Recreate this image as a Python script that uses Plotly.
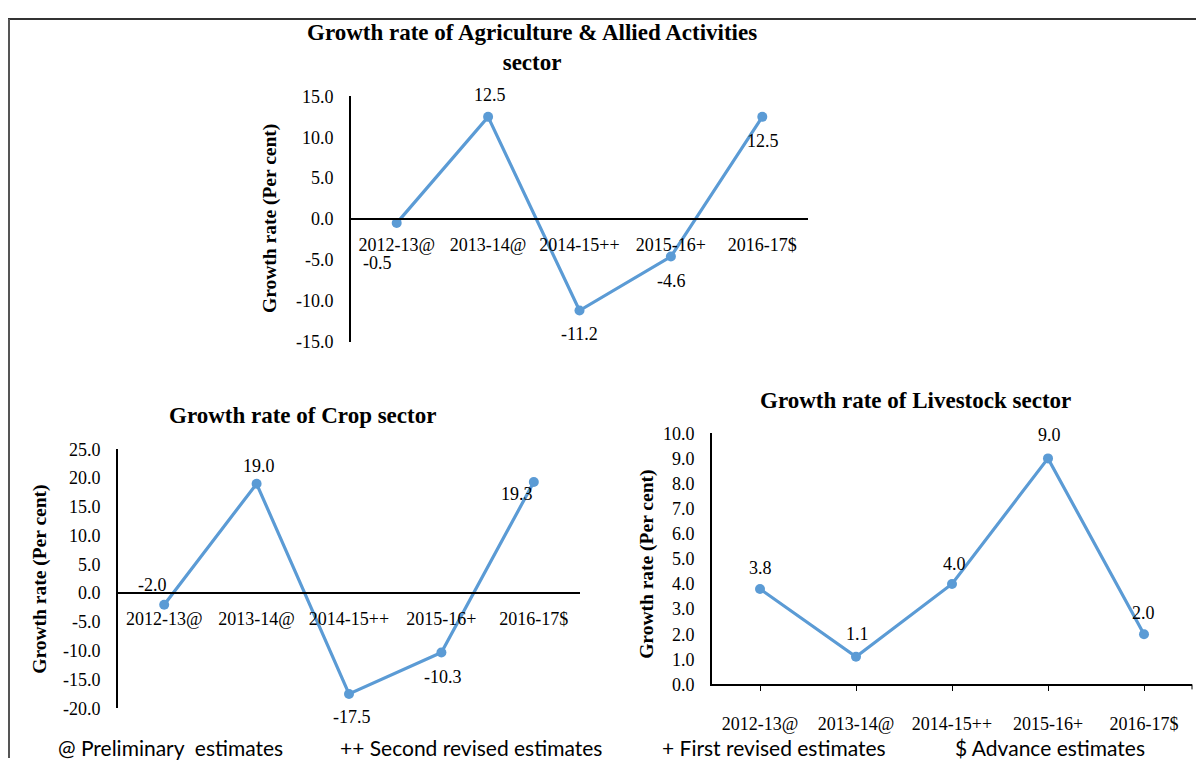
"""Growth rates of agriculture, crop and livestock sectors (three small line charts)."""

import plotly.graph_objects as go

# the page puts an 8px margin round the figure, so the figure is 16px smaller
# than the window; positions below are given in reference-picture pixels and
# mapped to the figure (vertical factor measured from an earlier render)
OX, OY = 8, 8
W, H = 1188, 760
VSCALE, VOFF = 0.977, 8.5

years = ["2012-13@", "2013-14@", "2014-15++", "2015-16+", "2016-17$"]
agri = [-0.5, 12.5, -11.2, -4.6, 12.5]
crop = [-2.0, 19.0, -17.5, -10.3, 19.3]
livestock = [3.8, 1.1, 4.0, 9.0, 2.0]

agri_ticks = [-15, -10, -5, 0, 5, 10, 15]
crop_ticks = [-20, -15, -10, -5, 0, 5, 10, 15, 20, 25]
livestock_ticks = [0, 1, 2, 3, 4, 5, 6, 7, 8, 9, 10]

footnotes = ["@ Preliminary  estimates", "++ Second revised estimates",
             "+ First revised estimates", "$ Advance estimates"]

BLUE = "#5B9BD5"
SERIF = "Liberation Serif, Times New Roman, serif"
SANS = "Lato, Carlito, Calibri, sans-serif"


def px(x):
    return (x - OX) / W


def py(y):
    ly = (y - VOFF) / VSCALE - OY
    return min(1 - ly / H, 1 - 1 / H)


fig = go.Figure()

panels = [
    dict(vals=agri, ticks=agri_ticks, xd=(351, 808), yd=(341, 95),
         shifts=[(-19, -40), (2, 22), (0, -23), (1, -24), (1, -24)], zero_axis=True),
    dict(vals=crop, ticks=crop_ticks, xd=(118, 580), yd=(709, 449),
         shifts=[(-12, 20), (2, 18), (3, -23), (2, -25), (-17, -12)], zero_axis=True),
    dict(vals=livestock, ticks=livestock_ticks, xd=(712, 1192), yd=(685, 433),
         shifts=[(0, 21), (1, 23), (2, 20), (1, 23), (-1, 21)], zero_axis=False),
]

annotations = []
for i, p in enumerate(panels, start=1):
    suffix = "" if i == 1 else str(i)
    xa, ya = "x" + suffix, "y" + suffix
    fig.add_trace(go.Scatter(
        x=years, y=p["vals"],
        mode="lines+markers",
        line=dict(color=BLUE, width=3.2),
        marker=dict(color=BLUE, size=10),
        xaxis=xa, yaxis=ya,
        showlegend=False, hoverinfo="x+y",
    ))
    for cat, v, (dx, dy) in zip(years, p["vals"], p["shifts"]):
        annotations.append(dict(
            x=cat, y=v, xref=xa, yref=ya, text=f"{v:.1f}",
            showarrow=False, xshift=dx, yshift=dy,
            font=dict(family=SERIF, size=18, color="black"),
        ))

    ydom = [py(p["yd"][0]), py(p["yd"][1])]
    y0, y1 = p["ticks"][0], p["ticks"][-1]
    xaxis = dict(
        domain=[px(p["xd"][0]), px(p["xd"][1])],
        type="category", range=[-0.5, 4.5],
        showline=True, linecolor="black", linewidth=2,
        showgrid=False, zeroline=False,
        tickfont=dict(family=SERIF, size=18, color="black"),
        fixedrange=True,
    )
    if p["zero_axis"]:
        xaxis.update(anchor="free",
                     position=ydom[0] + (0 - y0) / (y1 - y0) * (ydom[1] - ydom[0]),
                     ticks="", ticklabelstandoff=9)
    else:
        xaxis.update(anchor=ya, ticks="outside", ticklen=5,
                     tickcolor="black", tickwidth=1, ticklabelstandoff=17)
    yaxis = dict(
        domain=ydom, range=[y0, y1],
        tickvals=p["ticks"], ticktext=[f"{t:.1f}" for t in p["ticks"]],
        anchor=xa,
        showline=True, linecolor="black", linewidth=2,
        showgrid=False, zeroline=False, ticks="",
        ticklabelstandoff=12,
        tickfont=dict(family=SERIF, size=18, color="black"),
        fixedrange=True,
    )
    fig.update_layout(**{"xaxis" + suffix: xaxis, "yaxis" + suffix: yaxis})

# chart titles
titles = [
    ("<b>Growth rate of Agriculture & Allied Activities<br>sector</b>", 532, 46),
    ("<b>Growth rate of Crop sector</b>", 302, 415),
    ("<b>Growth rate of Livestock sector</b>", 915, 400),
]
for text, x, y in titles:
    annotations.append(dict(
        x=px(x), y=py(y), xref="paper", yref="paper", text=text, showarrow=False,
        font=dict(family=SERIF, size=23, color="black"), xanchor="center", yanchor="middle",
    ))

# y axis titles
for x, y in [(270, 218), (40, 580), (647, 565)]:
    annotations.append(dict(
        x=px(x), y=py(y), xref="paper", yref="paper",
        text="<b>Growth rate (Per cent)</b>", textangle=-90, showarrow=False,
        font=dict(family=SERIF, size=19.5, color="black"), xanchor="center", yanchor="middle",
    ))

# footnotes
for text, x in zip(footnotes, [56, 338, 660, 953]):
    annotations.append(dict(
        x=px(x), y=py(748), xref="paper", yref="paper", text=text, showarrow=False,
        font=dict(family=SANS, size=21, color="black"), xanchor="left", yanchor="middle",
    ))

shapes = [
    # frame (top and left edges only)
    dict(type="line", xref="paper", yref="paper", x0=0, x1=1, y0=py(4), y1=py(4),
         line=dict(color="#333333", width=2)),
    dict(type="line", xref="paper", yref="paper", x0=px(9), x1=px(9), y0=0, y1=py(4),
         line=dict(color="#555555", width=2)),
    # closing tick at the right end of the livestock category axis
    dict(type="line", xref="x3 domain", yref="paper", x0=1, x1=1, y0=py(685), y1=py(690),
         line=dict(color="black", width=1)),
]

fig.update_layout(
    width=W, height=H,
    margin=dict(l=0, r=0, t=0, b=0),
    paper_bgcolor="white", plot_bgcolor="white",
    annotations=annotations, shapes=shapes,
    font=dict(family=SERIF, color="black"),
)

fig.write_html("out.html")
